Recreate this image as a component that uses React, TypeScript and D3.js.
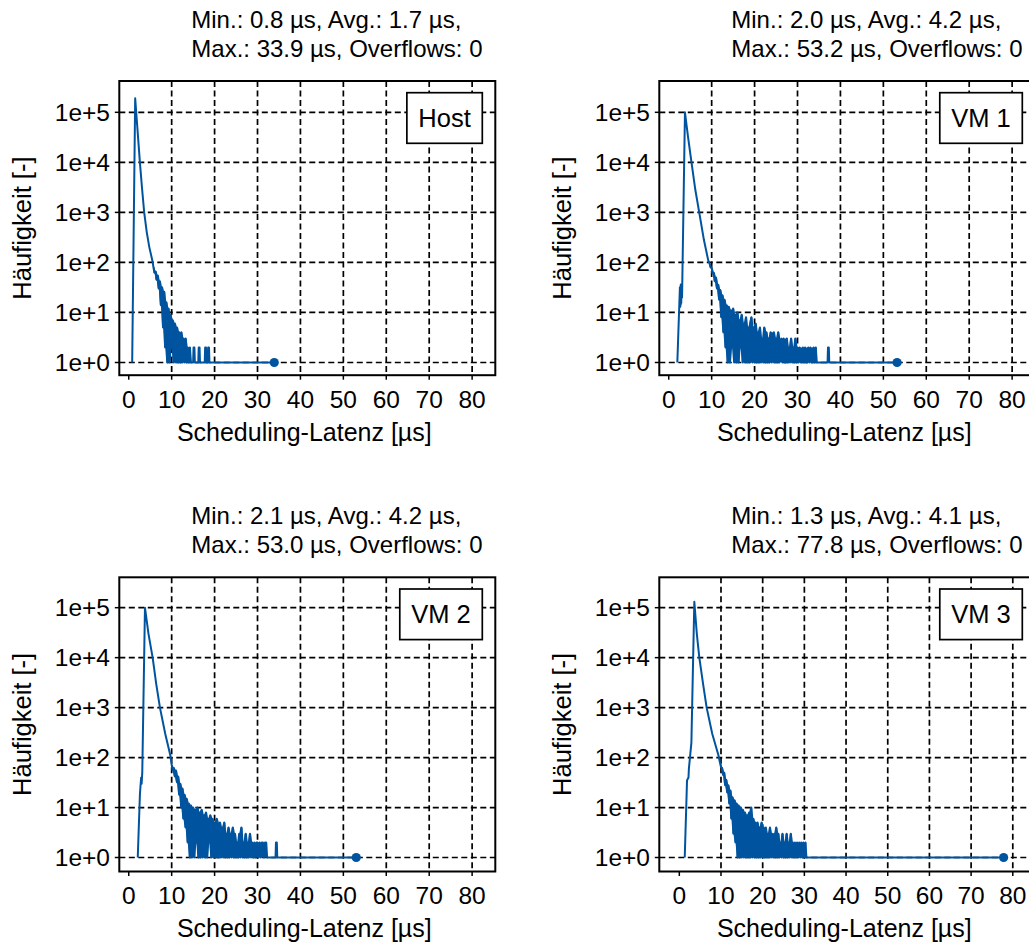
import React from "react";
import * as d3 from "d3";

const FONT = "'Liberation Sans', Arial, sans-serif";
const BLUE = "#00549F";
const NOISE_STEP = 0.25;

const panelNames = ["Host", "VM 1", "VM 2", "VM 3"];
const statsLine1 = [
  "Min.: 0.8 µs, Avg.: 1.7 µs,",
  "Min.: 2.0 µs, Avg.: 4.2 µs,",
  "Min.: 2.1 µs, Avg.: 4.2 µs,",
  "Min.: 1.3 µs, Avg.: 4.1 µs,",
];
const statsLine2 = [
  "Max.: 33.9 µs, Overflows: 0",
  "Max.: 53.2 µs, Overflows: 0",
  "Max.: 53.0 µs, Overflows: 0",
  "Max.: 77.8 µs, Overflows: 0",
];
const maxLatency = [33.9, 53.2, 53.0, 77.8];
const xTicks = [0, 10, 20, 30, 40, 50, 60, 70, 80];
const yTicks = [1, 10, 100, 1000, 10000, 100000];
const yTickLabels = ["1e+0", "1e+1", "1e+2", "1e+3", "1e+4", "1e+5"];

// rise + smooth decay, [latency µs, count]
const hostHead: [number, number][] = [
  [0.8, 1], [1.5, 190000], [2.0, 50000], [2.6, 10000], [3.1, 3000],
  [3.6, 1000], [4.2, 400], [4.8, 200], [5.6, 100],
];
// noisy band, one count per NOISE_STEP
const hostNoiseStart = 5.75;
const hostNoise = [
  80, 62, 66, 45, 55, 30, 42, 14, 32, 5, 26, 2, 16, 1, 12, 1, 9, 2, 7, 1,
  6, 1, 5, 1, 4, 1, 4, 1, 3, 1, 3, 1, 2, 1, 2, 1,
];
// sparse single spikes after the band
const hostTail: [number, number][] = [
  [15.0, 1], [15.1, 2], [15.3, 2], [15.4, 1], [16.2, 1], [16.3, 2], [16.5, 2], [16.6, 1],
  [17.7, 1], [17.8, 2], [18.0, 2], [18.1, 1], [18.4, 1], [18.5, 2], [18.7, 2], [18.8, 1],
];

const vm1Head: [number, number][] = [
  [2.0, 1], [2.6, 32], [2.7, 13], [2.8, 36], [2.9, 15], [3.0, 28], [3.1, 20],
  [3.78, 100000], [4.5, 32000], [5.3, 10000], [6.2, 2800], [7.1, 1000], [8.2, 280], [9.2, 110],
];
const vm1NoiseStart = 9.5;
const vm1Noise = [
  95, 80, 78, 60, 62, 42, 50, 30, 36, 18, 28, 8, 22, 4, 18, 2, 14, 1, 13, 1,
  11, 2, 12, 1, 9, 1, 10, 1, 7, 2, 9, 1, 6, 1, 8, 1, 5, 1, 6, 8,
  1, 5, 1, 6, 1, 4, 1, 5, 1, 3, 1, 5, 1, 4, 1, 3, 1, 4, 1, 2,
  4, 1, 3, 1, 4, 1, 2, 3, 1, 3, 1, 1, 3, 1, 2, 1, 3, 1, 2, 1,
  3, 1, 2, 1, 2, 1, 1, 2, 1, 2, 1, 1, 2, 1, 2, 1, 1, 2, 1, 2, 1,
];
const vm1Tail: [number, number][] = [[37.0, 1], [37.1, 2], [37.3, 2], [37.4, 1]];

const vm2Head: [number, number][] = [
  [2.1, 1], [2.6, 18], [2.75, 28], [2.9, 40], [3.0, 30], [3.15, 50],
  [3.78, 100000], [4.6, 30000], [5.57, 10000], [6.4, 3000], [7.27, 1000], [8.5, 300], [9.7, 110],
];
const vm2NoiseStart = 10.0;
const vm2Noise = [
  72, 55, 62, 42, 55, 32, 42, 18, 30, 10, 24, 6, 18, 4, 15, 2, 12, 1, 11, 1,
  10, 1, 9, 2, 10, 1, 8, 1, 9, 1, 7, 1, 8, 1, 6, 2, 7, 1, 6, 1,
  5, 1, 6, 1, 1, 5, 1, 4, 1, 5, 1, 3, 1, 4, 1, 3, 1, 4, 1, 3,
  1, 2, 1, 3, 1, 4, 1, 2, 1, 3, 1, 2, 1, 3, 1, 2, 1, 2, 1, 2,
  2, 1, 2, 1, 2, 2, 1, 2, 2, 1,
];
const vm2Tail: [number, number][] = [[34.2, 1], [34.3, 2], [34.5, 2], [34.6, 1]];

const vm3Head: [number, number][] = [
  [1.3, 1], [1.75, 18], [1.85, 35], [2.2, 40], [2.3, 60], [2.9, 200],
  [3.6, 132000], [4.2, 30000], [4.8, 10000], [5.7, 3000], [6.56, 1000], [7.9, 300], [9.4, 110],
];
const vm3NoiseStart = 9.75;
const vm3Noise = [
  80, 65, 62, 45, 50, 28, 36, 20, 28, 12, 22, 6, 16, 3, 14, 2, 12, 1, 11, 1,
  10, 1, 9, 1, 8, 1, 7, 1, 8, 1, 10, 1, 6, 1, 5, 1, 5, 1, 4, 1,
  5, 1, 4, 1, 4, 1, 3, 1, 4, 1, 3, 1, 3, 1, 4, 1, 3, 1, 2, 1,
  3, 1, 2, 1, 3, 1, 2, 1, 3, 1, 2, 1, 2, 1, 2, 1, 2, 1, 2, 1,
  2, 1, 2, 1,
];
const vm3Tail: [number, number][] = [];

const heads = [hostHead, vm1Head, vm2Head, vm3Head];
const noises = [hostNoise, vm1Noise, vm2Noise, vm3Noise];
const noiseStarts = [hostNoiseStart, vm1NoiseStart, vm2NoiseStart, vm3NoiseStart];
const tails = [hostTail, vm1Tail, vm2Tail, vm3Tail];

// panel frames (px) and axis limits
const W = 376;
const H = 294.2;
const layout = [
  { left: 119.3, top: 81, xMin: -2.2, xMax: 85.4, yLo: -0.254, yHi: 5.626 },
  { left: 659.3, top: 81, xMin: -2.2, xMax: 85.4, yLo: -0.254, yHi: 5.626 },
  { left: 119.3, top: 577.3, xMin: -2.2, xMax: 85.4, yLo: -0.28, yHi: 5.608 },
  { left: 659.3, top: 577.3, xMin: -4.8, xMax: 85.4, yLo: -0.28, yHi: 5.608 },
];

let ctx: CanvasRenderingContext2D | null = null;
function textWidth(s: string, size: number) {
  if (!ctx) ctx = document.createElement("canvas").getContext("2d");
  if (!ctx) return s.length * size * 0.55;
  ctx.font = `${size}px "Liberation Sans"`;
  return ctx.measureText(s).width;
}

const Panel = ({ i }: { i: number }) => {
  const L = layout[i];
  const x = d3.scaleLinear().domain([L.xMin, L.xMax]).range([0, W]);
  const y = d3.scaleLog().domain([10 ** L.yLo, 10 ** L.yHi]).range([H, 0]);
  const line = d3
    .line<[number, number]>()
    .x((d) => x(d[0]))
    .y((d) => y(d[1]));
  const noisy: [number, number][] = noises[i].map((c, k) => [noiseStarts[i] + k * NOISE_STEP, c]);
  const data: [number, number][] = [...heads[i], ...noisy, ...tails[i], [maxLatency[i], 1]];

  // the dense zig-zag is shown as the band it sweeps (fine bins blur into a solid fill)
  const near = (k: number) =>
    [noisy[k - 1], noisy[k], noisy[k + 1]].filter(Boolean).map((p) => p[1]);
  const band = d3
    .area<[number, number]>()
    .x((d) => x(d[0]))
    .y1((d, k) => y(Math.max(...near(k))))
    .y0((d, k) => y(Math.min(...near(k))));

  const legendW = textWidth(panelNames[i], 25.5) + 23;
  const legendRight = 363;

  return (
    <g transform={`translate(${L.left},${L.top})`} fontFamily={FONT} fill="#000">
      <text x={72} y={-53} fontSize={24}>{statsLine1[i]}</text>
      <text x={72} y={-24} fontSize={24}>{statsLine2[i]}</text>

      {yTicks.map((t) => (
        <line key={"gy" + t} x1={0} x2={W} y1={y(t)} y2={y(t)}
          stroke="#000" strokeWidth={1.7} strokeDasharray="6,3.5" />
      ))}
      {xTicks.filter((t) => t > 0).map((t) => (
        <line key={"gx" + t} x1={x(t)} x2={x(t)} y1={0} y2={H}
          stroke="#000" strokeWidth={1.7} strokeDasharray="6,3.5" />
      ))}

      <path d={band(noisy) || ""} fill={BLUE} stroke="none" />
      <path d={line(data) || ""} fill="none" stroke={BLUE} strokeWidth={2}
        strokeLinejoin="round" />
      <circle cx={x(maxLatency[i])} cy={y(1)} r={4.6} fill={BLUE} />

      <rect x={legendRight - legendW} y={11.7} width={legendW} height={50.6}
        fill="#fff" stroke="#000" strokeWidth={1.7} />
      <text x={legendRight - legendW / 2} y={37 + 9.1} fontSize={25.5} textAnchor="middle">
        {panelNames[i]}
      </text>

      <rect x={0} y={0} width={W} height={H} fill="none" stroke="#000" strokeWidth={2} />

      {yTicks.map((t, k) => (
        <g key={"ty" + t}>
          <line x1={-4.5} x2={0} y1={y(t)} y2={y(t)} stroke="#000" strokeWidth={1.5} />
          <text x={-9.3} y={y(t) + 8.8} fontSize={24.5} textAnchor="end">{yTickLabels[k]}</text>
        </g>
      ))}
      {xTicks.map((t) => (
        <g key={"tx" + t}>
          <line x1={x(t)} x2={x(t)} y1={H} y2={H + 4.5} stroke="#000" strokeWidth={1.5} />
          <text x={x(t)} y={H + 33} fontSize={24.5} textAnchor="middle">{t}</text>
        </g>
      ))}

      <text x={W / 2 - 3} y={H + 66} fontSize={25} textAnchor="middle">
        Scheduling-Latenz [µs]
      </text>
      <text transform={`translate(-88,${H / 2}) rotate(-90)`} fontSize={25.5} textAnchor="middle">
        Häufigkeit [-]
      </text>
    </g>
  );
};

export default function App() {
  return (
    <svg width={1029} height={949} style={{ position: "absolute", left: 0, top: 0, background: "#fff" }}>
      <rect width={1029} height={949} fill="#fff" />
      {[0, 1, 2, 3].map((i) => (
        <Panel key={i} i={i} />
      ))}
    </svg>
  );
}
